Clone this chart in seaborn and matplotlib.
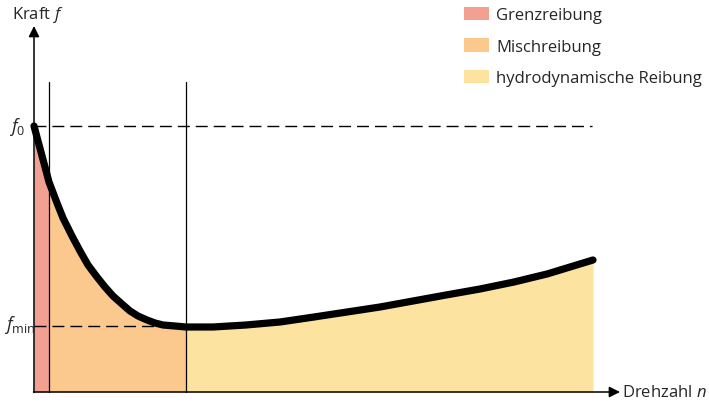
import numpy as np
import pandas as pd
import matplotlib
matplotlib.use("Agg")
import matplotlib.pyplot as plt
import seaborn as sns
from matplotlib.patches import Patch

# ---- data (arbitrary units) ----
drehzahl = [0, 4, 11, 15, 23, 29, 38, 46, 54, 63, 71, 79, 88, 96, 104, 113, 121, 129,
            141, 152, 165, 179, 212, 246, 280, 313, 346, 379, 412, 446, 480, 513, 536, 559]
kraft = [266, 251, 225, 210, 189, 174, 156, 141, 127, 115, 105, 96, 88, 81, 76, 72, 69, 67,
         66, 65, 65, 65, 67, 70, 75, 80, 85, 91, 97, 103, 110, 118, 125, 132]
f0_value = 266
fmin_value = 66
grenz_end = 15
misch_end = 152
line_top = 310
regime_labels = ["Grenzreibung", "Mischreibung", "hydrodynamische Reibung"]
regime_colors = ["#F2A092", "#FBC88E", "#FDE3A0"]

df = pd.DataFrame({"n": drehzahl, "f": kraft})

sns.set_style("white")
plt.rcParams["font.family"] = ["Open Sans", "DejaVu Sans"]
plt.rcParams["mathtext.fontset"] = "custom"
plt.rcParams["mathtext.rm"] = "Open Sans"
plt.rcParams["mathtext.it"] = "Open Sans:italic"

fig = plt.figure(figsize=(7.09, 4.10), dpi=100)
ax = fig.add_axes([0, 0, 1, 1])
ax.set_xlim(-34, 675)
ax.set_ylim(-17, 393)
ax.axis("off")

n = np.array(drehzahl, dtype=float)
f = np.array(kraft, dtype=float)
bounds = [(0, grenz_end), (grenz_end, misch_end), (misch_end, n.max())]
for (lo, hi), col in zip(bounds, regime_colors):
    m = (n >= lo) & (n <= hi)
    ax.fill_between(n[m], 0, f[m], color=col, lw=0, zorder=1)

# dashed reference lines
ax.plot([0, 558], [f0_value, f0_value], color="black", lw=1.0,
        linestyle=(0, (8.6, 4.3)), zorder=2)
ax.plot([0, 160], [fmin_value, fmin_value], color="black", lw=1.0,
        linestyle=(0, (8.6, 4.3)), zorder=2)

# vertical boundaries
for xv in (grenz_end, misch_end):
    ax.plot([xv, xv], [0, line_top], color="black", lw=0.9, zorder=2)

# curve
sns.lineplot(data=df, x="n", y="f", ax=ax, color="black", lw=5.2,
             zorder=4, solid_capstyle="round", solid_joinstyle="round")

# axes arrows
arrow = dict(arrowstyle="-|>", lw=1.1, color="black", mutation_scale=16,
             shrinkA=0, shrinkB=0)
ax.annotate("", xy=(0, 366), xytext=(0, -0.5), arrowprops=arrow, zorder=3)
ax.annotate("", xy=(586, 0), xytext=(-0.5, 0), arrowprops=arrow, zorder=3)

fs = 12
ax.text(-22, 378, "Kraft $f$", fontsize=fs, ha="left", va="center")
ax.text(588, 0, "Drehzahl $n$", fontsize=fs, ha="left", va="center")
ax.text(-25, 261, "$f_{0}$", fontsize=fs + 1, ha="left", va="baseline")
ax.text(-30, 63, r"$f_{\mathrm{min}}$", fontsize=fs + 1, ha="left", va="baseline")

handles = [Patch(facecolor=c, edgecolor="none") for c in regime_colors]
leg = ax.legend(handles, regime_labels, loc="upper left",
                bbox_to_anchor=(464 / 709, 1 - 8 / 410), frameon=False,
                fontsize=fs, handlelength=1.5, handleheight=0.85,
                handletextpad=0.42, labelspacing=0.9, borderpad=0,
                borderaxespad=0)

fig.savefig("out.png", dpi=100)
